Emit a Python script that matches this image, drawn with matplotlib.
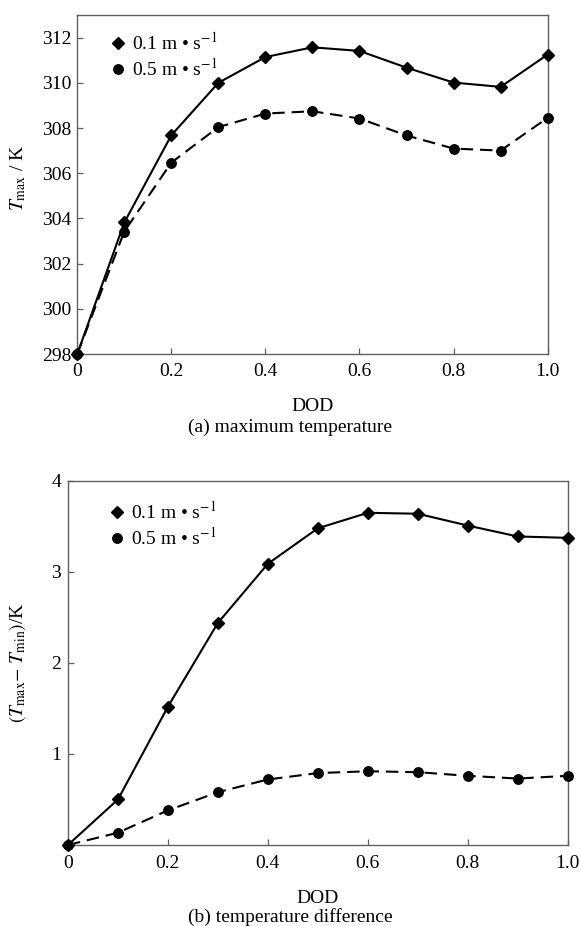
import matplotlib
matplotlib.use("Agg")
import matplotlib.pyplot as plt
from matplotlib.lines import Line2D

plt.rcParams['font.family'] = ['Liberation Serif', 'DejaVu Serif']
plt.rcParams['mathtext.fontset'] = 'stix'

dod = [0.0, 0.1, 0.2, 0.3, 0.4, 0.5, 0.6, 0.7, 0.8, 0.9, 1.0]
tmax_01 = [298.0, 303.82, 307.68, 310.0, 311.14, 311.57, 311.41, 310.67, 310.01, 309.82, 311.25]
tmax_05 = [298.0, 303.42, 306.47, 308.04, 308.64, 308.74, 308.42, 307.67, 307.09, 307.0, 308.45]
dT_01 = [0.0, 0.50, 1.52, 2.44, 3.09, 3.48, 3.65, 3.64, 3.51, 3.39, 3.375]
dT_05 = [0.0, 0.135, 0.38, 0.58, 0.72, 0.79, 0.81, 0.80, 0.76, 0.73, 0.76]

labels = ["0.1 m \u2022 s$^{-1}$", "0.5 m \u2022 s$^{-1}$"]
xticks = [0, 0.2, 0.4, 0.6, 0.8, 1.0]
xticklabels = ["0", "0.2", "0.4", "0.6", "0.8", "1.0"]

FS = 14
spine_c = '#606060'
DASH = (0, (6.0, 3.3))
LW = 1.5

fig = plt.figure(figsize=(5.81, 9.26), dpi=100)
ax1 = fig.add_axes([0.1330, 0.6177, 0.8096, 0.3661])
ax2 = fig.add_axes([0.1170, 0.0875, 0.8601, 0.3931])

def style(ax):
    for s in ax.spines.values():
        s.set_color(spine_c)
        s.set_linewidth(1.0)
    ax.tick_params(direction='in', length=4.3, width=0.9, color=spine_c,
                   labelsize=FS, right=False, top=False)

# Panel (a)
ax1.plot(dod, tmax_01, color='black', lw=LW, marker='D', ms=6.3, clip_on=False, zorder=3)
ax1.plot(dod, tmax_05, color='black', lw=LW, ls=DASH, marker='o', ms=6.8, clip_on=False, zorder=3)
ax1.set_xlim(0, 1.0)
ax1.set_ylim(298, 313)
ax1.set_yticks([298, 300, 302, 304, 306, 308, 310, 312])
ax1.set_xticks(xticks)
ax1.set_xticklabels(xticklabels)
style(ax1)
ax1.tick_params(axis='x', pad=6.5)
ax1.tick_params(axis='y', pad=4)
ax1.set_ylabel(r"$T_{\rm max}$ / K", fontsize=FS)
ax1.yaxis.set_label_coords(-0.104, 0.52)
ax1.set_xlabel("DOD", fontsize=FS, labelpad=13)
fig.text(0.5, 1 - 427 / 926, "(a) maximum temperature", ha='center', va='center', fontsize=FS)

# Panel (b)
ax2.plot(dod, dT_01, color='black', lw=LW, marker='D', ms=6.3, clip_on=False, zorder=3)
ax2.plot(dod, dT_05, color='black', lw=LW, ls=DASH, marker='o', ms=6.8, clip_on=False, zorder=3)
ax2.set_xlim(0, 1.0)
ax2.set_ylim(0, 4)
ax2.set_yticks([1, 2, 3, 4])
ax2.set_xticks(xticks)
ax2.set_xticklabels(xticklabels)
style(ax2)
ax2.tick_params(axis='x', pad=7)
ax2.tick_params(axis='y', pad=5)
ax2.set_ylabel(r"$(T_{\rm max}$$-$ $T_{\rm min})$/K", fontsize=FS)
ax2.yaxis.set_label_coords(-0.080, 0.5)
ax2.set_xlabel("DOD", fontsize=FS, labelpad=13)
fig.text(0.5, 1 - 917 / 926, "(b) temperature difference", ha='center', va='center', fontsize=FS)

handles = [Line2D([], [], color='black', marker='D', ls='none', ms=6.3),
           Line2D([], [], color='black', marker='o', ls='none', ms=6.8)]
for ax, anchor in [(ax1, (0.075, 0.951)), (ax2, (0.087, 0.945))]:
    ax.legend(handles, labels, loc='upper left', bbox_to_anchor=anchor, frameon=False,
              fontsize=FS, handlelength=0.6, handletextpad=0.4, labelspacing=0.2,
              borderaxespad=0.0, borderpad=0.0)

fig.savefig("out.png", dpi=100)
